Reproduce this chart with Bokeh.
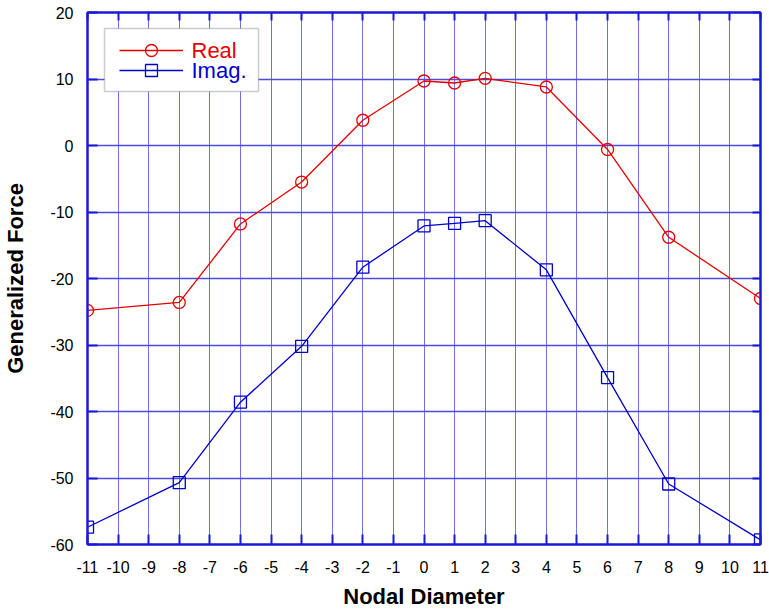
from bokeh.plotting import figure
from bokeh.models import (ColumnDataSource, Legend, LegendItem, LinearAxis, FixedTicker,
                          Range1d, Label, BoxAnnotation)
from bokeh.embed import file_html
from bokeh.resources import INLINE

nodal = [-11, -8, -6, -4, -2, 0, 1, 2, 4, 6, 8, 11]
real = [-24.8, -23.6, -11.8, -5.5, 3.8, 9.7, 9.4, 10.1, 8.8, -0.6, -13.8, -23.0]
imag = [-57.4, -50.7, -38.6, -30.2, -18.3, -12.1, -11.7, -11.3, -18.7, -34.9, -50.9, -59.3]
x_ticks = list(range(-11, 12))
y_ticks = list(range(-60, 21, 10))

FONT = "Liberation Sans"
RED = "#e60000"
BLUE = "#0000cc"
FRAME = "#1a1ad6"
GRID = "#7070ea"

FW, FH = 673, 532
X0, X1, Y0, Y1 = -11, 11, -60, 20

def dx(px):  # frame pixel -> data x
    return X0 + px * (X1 - X0) / FW

def dy(px):  # frame pixel from bottom -> data y
    return Y0 + px * (Y1 - Y0) / FH

p = figure(frame_width=FW, frame_height=FH, output_backend="svg", toolbar_location=None,
           x_range=Range1d(X0, X1), y_range=Range1d(Y0, Y1),
           min_border_left=87, min_border_top=12, min_border_right=9, min_border_bottom=60)

src = ColumnDataSource(dict(x=nodal, re=real, im=imag))
lr = p.line("x", "re", source=src, line_color=RED, line_width=1.3)
sr = p.scatter("x", "re", source=src, marker="circle", size=12, line_color=RED,
               fill_alpha=0, line_width=1.3)
li = p.line("x", "im", source=src, line_color=BLUE, line_width=1.3)
si = p.scatter("x", "im", source=src, marker="square", size=12, line_color=BLUE,
               fill_alpha=0, line_width=1.3)

for ax in (p.xaxis[0], p.yaxis[0]):
    ax.major_label_text_font = FONT
    ax.major_label_text_font_size = "16px"
    ax.major_label_text_color = "black"
    ax.axis_label_text_font = FONT
    ax.axis_label_text_font_style = "bold"
    ax.axis_label_text_font_size = "22px"
    ax.axis_label_text_color = "black"
    ax.axis_line_color = FRAME
    ax.axis_line_width = 2
    ax.major_tick_in = 10
    ax.major_tick_out = 0
    ax.major_tick_line_color = FRAME
    ax.major_tick_line_width = 2
    ax.minor_tick_line_color = None

p.xaxis[0].ticker = FixedTicker(ticks=x_ticks)
p.yaxis[0].ticker = FixedTicker(ticks=y_ticks)
p.xaxis[0].major_label_overrides = {t: str(t) for t in x_ticks}
p.yaxis[0].major_label_overrides = {t: str(t) for t in y_ticks}
p.xaxis[0].major_label_standoff = 16
p.yaxis[0].major_label_standoff = 14
p.xaxis[0].axis_label = "Nodal Diameter"
p.yaxis[0].axis_label = "Generalized Force"
p.xaxis[0].axis_label_standoff = 8
p.yaxis[0].axis_label_standoff = 19

top = LinearAxis(ticker=FixedTicker(ticks=x_ticks), major_label_text_alpha=0,
                 major_label_text_font_size="1px",
                 axis_line_color=FRAME, axis_line_width=2, major_tick_in=8, major_tick_out=0,
                 major_tick_line_color=FRAME, major_tick_line_width=2, minor_tick_line_color=None)
right = LinearAxis(ticker=FixedTicker(ticks=y_ticks), major_label_text_alpha=0,
                   major_label_text_font_size="1px",
                   axis_line_color=FRAME, axis_line_width=2, major_tick_in=8, major_tick_out=0,
                   major_tick_line_color=FRAME, major_tick_line_width=2, minor_tick_line_color=None)
top.major_label_overrides = {t: "" for t in x_ticks}
right.major_label_overrides = {t: "" for t in y_ticks}
p.add_layout(top, "above")
p.add_layout(right, "right")

p.xgrid.ticker = FixedTicker(ticks=x_ticks)
p.ygrid.ticker = FixedTicker(ticks=y_ticks)
p.xgrid.grid_line_color = GRID
p.ygrid.grid_line_color = "#4b4be0"
p.xgrid.grid_line_width = 1
p.ygrid.grid_line_width = 1.5
p.outline_line_color = FRAME
p.outline_line_width = 2
p.background_fill_color = "white"

# legend box
p.add_layout(BoxAnnotation(left=dx(17), right=dx(171), top=dy(516), bottom=dy(453),
                           fill_color="white", fill_alpha=1, line_color="#555555",
                           line_width=1.5, level="annotation"))

for rends, ytop in (([lr, sr], 479), ([li, si], 459)):
    p.add_layout(Legend(items=[LegendItem(label=" ", renderers=rends)],
                        location=(32, ytop), padding=0, spacing=0, margin=0,
                        glyph_width=64, glyph_height=30, label_height=30, label_width=0,
                        label_standoff=0, border_line_color=None,
                        background_fill_alpha=0), "center")

p.add_layout(Label(x=dx(104), y=dy(494), text="Real",
                   text_font=FONT, text_font_size="22px", text_color=RED,
                   text_baseline="middle", text_align="left", level="overlay"))
p.add_layout(Label(x=dx(104), y=dy(474), text="Imag.",
                   text_font=FONT, text_font_size="22px", text_color=BLUE,
                   text_baseline="middle", text_align="left", level="overlay"))

open("out.html", "w").write(file_html(p, INLINE))
